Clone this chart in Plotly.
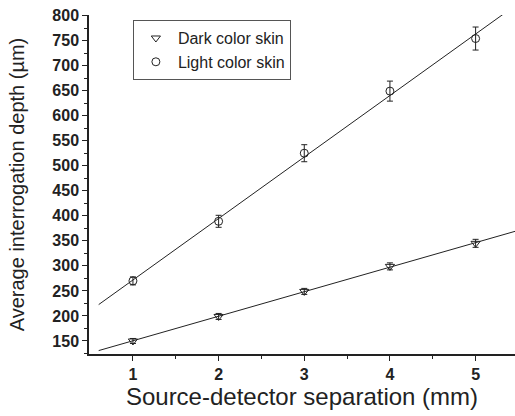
import numpy as np
import plotly.graph_objects as go

separation_mm = [1, 2, 3, 4, 5]
dark_depth = [150, 199, 249, 299, 345]
dark_err = [5, 6, 6, 7, 8]
light_depth = [270, 389, 525, 649, 754]
light_err = [8, 12, 17, 20, 23]
x_ticks = [1, 2, 3, 4, 5]
y_ticks = list(range(150, 801, 50))
fit_x_range = [0.6, 5.6]

x = np.array(separation_mm, dtype=float)
fx = np.array(fit_x_range)
dk = np.polyfit(x, dark_depth, 1)
lt = np.polyfit(x, light_depth, 1)

FONT = "Liberation Sans"
INK = "#222"

fig = go.Figure()
fig.add_trace(go.Scatter(x=fx, y=np.polyval(lt, fx), mode="lines",
                         line=dict(color=INK, width=1), showlegend=False, hoverinfo="skip"))
fig.add_trace(go.Scatter(x=fx, y=np.polyval(dk, fx), mode="lines",
                         line=dict(color=INK, width=1), showlegend=False, hoverinfo="skip"))
fig.add_trace(go.Scatter(
    x=separation_mm, y=dark_depth, mode="markers", name="Dark color skin",
    marker=dict(symbol="triangle-down-open", size=8, color=INK, line=dict(width=1)),
    error_y=dict(type="data", array=dark_err, color=INK, thickness=1, width=3)))
fig.add_trace(go.Scatter(
    x=separation_mm, y=light_depth, mode="markers", name="Light color skin",
    marker=dict(symbol="circle-open", size=8, color=INK, line=dict(width=1)),
    error_y=dict(type="data", array=light_err, color=INK, thickness=1, width=3)))

fig.update_layout(
    width=515, height=416,
    margin=dict(l=89, r=0, t=15, b=62),
    paper_bgcolor="white", plot_bgcolor="white",
    font=dict(family=FONT, color=INK),
    legend=dict(x=0.103, y=0.985, xanchor="left", yanchor="top",
                bordercolor="#555", borderwidth=1, bgcolor="white",
                font=dict(family=FONT, size=16, color=INK), tracegroupgap=0,
                itemwidth=34),
    xaxis=dict(range=[0.487, 5.46], tickvals=x_ticks, ticktext=[f"<b>{v}</b>" for v in x_ticks],
               showgrid=False, zeroline=False, automargin=False,
               showline=True, linecolor=INK, linewidth=1.5, ticks="outside",
               ticklen=5, tickwidth=1.2, tickcolor=INK,
               tickfont=dict(family=FONT, size=16, color=INK),
               minor=dict(tickvals=[1.5, 2.5, 3.5, 4.5], ticks="outside", ticklen=3,
                          tickwidth=1, tickcolor=INK),
               title=dict(text="Source-detector separation (mm)",
                          font=dict(family=FONT, size=24, color=INK), standoff=6)),
    yaxis=dict(range=[124, 801], tickvals=y_ticks, ticktext=[f"<b>{v}</b>" for v in y_ticks],
               showgrid=False, zeroline=False, automargin=False,
               showline=True, linecolor=INK, linewidth=1.5,
               ticks="outside", ticklen=5, tickwidth=1.2, tickcolor=INK,
               tickfont=dict(family=FONT, size=16, color=INK),
               minor=dict(tickvals=list(range(125, 801, 50)), ticks="outside", ticklen=3,
                          tickwidth=1, tickcolor=INK),
               title=dict(text="Average interrogation depth (µm)",
                          font=dict(family=FONT, size=20, color=INK), standoff=22)),
)
fig.write_html("out.html", config={"displayModeBar": False},
               post_script="document.body.style.margin='0';document.body.style.overflow='hidden';")
